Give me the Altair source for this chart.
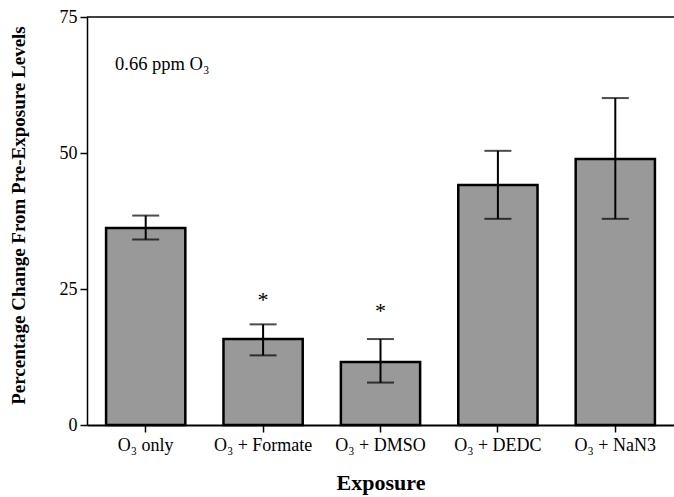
import altair as alt
import pandas as pd

categories = ["O₃ only", "O₃ + Formate", "O₃ + DMSO", "O₃ + DEDC", "O₃ + NaN3"]
means = [36.2, 15.8, 11.6, 44.1, 48.9]
err_low = [34.1, 12.8, 7.8, 37.9, 37.9]
err_high = [38.5, 18.5, 15.8, 50.4, 60.1]
star_y = [None, 23.0, 21.0, None, None]

df = pd.DataFrame({"cat": categories, "mean": means, "lo": err_low, "hi": err_high})
stars = pd.DataFrame({"cat": categories, "sy": star_y}).dropna()

FONT = "Liberation Serif"

xenc = alt.X("cat:N", sort=categories,
             scale=alt.Scale(paddingInner=0.325, paddingOuter=0.1625),
             axis=alt.Axis(title="Exposure", labelAngle=0, labelFontSize=18,
                           labelFont=FONT, labelColor="black", tickColor="black",
                           tickSize=7, tickWidth=1.5, domainColor="black",
                           domainWidth=2, labelPadding=4, titleFont=FONT,
                           titleFontSize=22, titleFontWeight="bold",
                           titleColor="black", titlePadding=18))
yscale = alt.Scale(domain=[0, 75], nice=False, zero=True)
yaxis = alt.Axis(title="Percentage Change From Pre-Exposure Levels", values=[0, 25, 50, 75],
                 labelFontSize=18, labelFont=FONT, labelColor="black",
                 tickColor="black", tickSize=7, tickWidth=1.5, domainColor="black",
                 domainWidth=1.5, grid=False, labelPadding=3, titleFont=FONT,
                 titleFontSize=19, titleFontWeight="bold", titleColor="black",
                 titleX=-69, titleY=198, titleBaseline="middle", titleAngle=-90,
                 titleAlign="center")

def X():
    return alt.X("cat:N", sort=categories)

bars = alt.Chart(df).mark_bar(color="#999999", stroke="black", strokeWidth=2.5).encode(
    x=xenc, y=alt.Y("mean:Q", scale=yscale, axis=yaxis))
rule = alt.Chart(df).mark_rule(color="black", strokeWidth=2).encode(
    x=X(), y=alt.Y("lo:Q", scale=yscale), y2="hi:Q")
cap_lo = alt.Chart(df).mark_tick(color="black", thickness=2, size=27).encode(
    x=X(), y=alt.Y("lo:Q", scale=yscale))
cap_hi = alt.Chart(df).mark_tick(color="black", thickness=2, size=27).encode(
    x=X(), y=alt.Y("hi:Q", scale=yscale))
star = alt.Chart(stars).mark_text(text="*", fontSize=22, font=FONT, color="black",
                                  baseline="middle").encode(
    x=X(), y=alt.Y("sy:Q", scale=yscale))
top = alt.Chart(pd.DataFrame({"v": [75]})).mark_rule(color="black", strokeWidth=1.5).encode(
    y=alt.Y("v:Q", scale=yscale))
note = alt.Chart(pd.DataFrame({"t": ["0.66 ppm O₃"]})).mark_text(
    align="left", baseline="middle", fontSize=18.5, font=FONT, color="black").encode(
    text="t:N", x=alt.value(28), y=alt.datum(66.4))

chart = alt.layer(bars, rule, cap_lo, cap_hi, star, top, note).properties(
    width=587, height=408,
    padding={"left": 87, "top": 17, "right": 0, "bottom": 72},
    autosize=alt.AutoSizeParams(type="none"),
    background="white",
).configure_view(stroke=None)

chart.save("out.html", embed_options={"renderer": "svg", "actions": False})
